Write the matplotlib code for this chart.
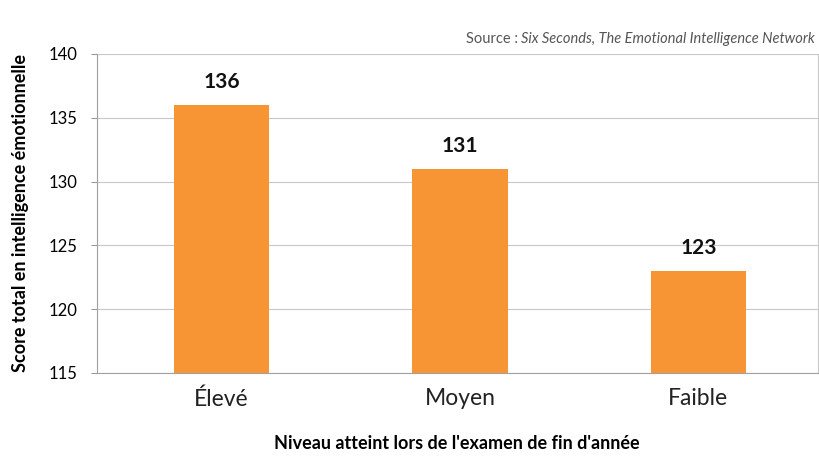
import matplotlib
matplotlib.use('Agg')
import matplotlib.pyplot as plt

plt.rcParams['font.family'] = ['Lato', 'DejaVu Sans']

# data
categories = ['Élevé', 'Moyen', 'Faible']
scores = [136, 131, 123]
yticks = [115, 120, 125, 130, 135, 140]

fig = plt.figure(figsize=(8.2, 4.57), dpi=100)
ax = fig.add_axes([0.118, 0.184, 0.879, 0.698])

x = range(len(categories))
bars = ax.bar(x, scores, width=0.4, color='#f79433', zorder=3)
for b, v in zip(bars, scores):
    ax.text(b.get_x() + b.get_width() / 2, v + 1.0, str(v), ha='center', va='bottom',
            fontsize=15, fontweight='bold', color='#111111')

ax.set_ylim(115, 140)
ax.set_xlim(-0.524, 2.5)
ax.set_yticks(yticks)
ax.set_xticks(list(x))
ax.set_xticklabels(categories, fontsize=16.5, color='#222222')
ax.tick_params(axis='y', labelsize=12, length=4, color='#999999', pad=10)
ax.tick_params(axis='x', length=0, pad=11)
ax.yaxis.grid(True, color='#c8c8c8', linewidth=0.8, zorder=0)
for s in ['left', 'bottom']:
    ax.spines[s].set_color('#a0a0a0')
ax.spines['top'].set_visible(False)
ax.spines['right'].set_color('#c8c8c8')
ax.spines['right'].set_linewidth(0.8)

ax.set_ylabel('Score total en intelligence émotionnelle', fontsize=13, fontweight='bold', labelpad=14)
ax.set_xlabel("Niveau atteint lors de l'examen de fin d'année", fontsize=13, fontweight='bold', labelpad=18)

# source line: normal "Source :" followed by italic reference
src = fig.text(0.994, 0.905, 'Six Seconds, The Emotional Intelligence Network', ha='right',
               fontsize=10.5, style='italic', color='#555555')
fig.canvas.draw()
bb = src.get_window_extent().transformed(fig.transFigure.inverted())
fig.text(bb.x0, 0.905, 'Source : ', ha='right', fontsize=10.5, color='#555555')

plt.savefig('out.png', dpi=100)
